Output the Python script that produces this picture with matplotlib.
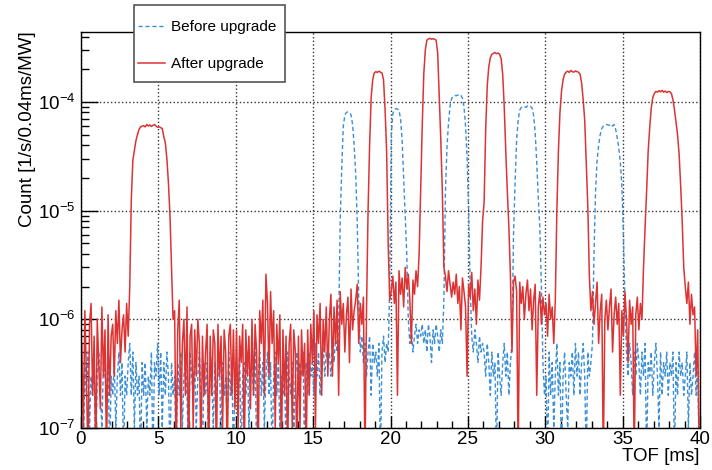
import numpy as np
import matplotlib
matplotlib.use("Agg")
import matplotlib.pyplot as plt
from matplotlib.patches import Rectangle
from matplotlib.ticker import LogLocator, MultipleLocator, NullFormatter

plt.rcParams['font.family'] = ['Liberation Sans', 'DejaVu Sans']
plt.rcParams['mathtext.fontset'] = 'custom'
plt.rcParams['mathtext.rm'] = 'Liberation Sans'
plt.rcParams['mathtext.default'] = 'regular'

# TOF histogram, 0.1 ms bins from 0 to 40 ms
bin_width = 0.1
unit = 1e-7  # counts below are in units of 1e-7 /s/0.04ms/MW

before = [
    3, 0.5, 4, 2, 5, 1, 3, 2, 4, 0.5, 3, 5, 2, 1, 4, 3, 2, 5, 0.5, 3,
    2, 4, 1, 3, 5, 2, 4, 0.5, 3, 2, 4, 6, 2, 5, 1, 4, 2, 3, 0.5, 4,
    2, 4, 1, 3, 2, 5, 0.5, 4, 3, 6, 2, 5, 1, 4, 2, 5, 3, 0.5, 4, 2,
    3, 0.5, 4, 2, 5, 1, 3, 4, 2, 0.5, 5, 3, 2, 4, 1, 3, 5, 2, 0.5, 4,
    2, 4, 0.5, 5, 3, 1, 4, 2, 3, 5, 0.5, 4, 2, 3, 1, 5, 2, 4, 0.5, 3,
    4, 2, 5, 0.5, 3, 4, 2, 5, 1, 3, 4, 2, 6, 0.5, 3, 5, 2, 4, 1, 3,
    5, 2, 4, 0.5, 3, 5, 2, 4, 1, 3, 2, 4, 0.5, 5, 3, 2, 4, 1, 3, 5,
    2, 4, 3, 5, 0.5, 4, 2, 5, 3, 4, 2, 6, 3, 5, 2, 4, 6, 3, 5, 4,
    5, 3, 6, 4, 7, 5, 9, 80, 250, 600, 760, 800, 810, 800, 760, 620, 400, 220, 80, 15,
    5, 7, 4, 6, 3, 5, 7, 2, 6, 4, 5, 3, 6, 0.5, 5, 7, 4, 6, 5, 20,
    500, 780, 850, 870, 860, 840, 700, 450, 200, 85, 40, 10, 6, 8, 5, 7, 9, 6, 8, 7,
    9, 6, 8, 5, 9, 7, 4, 8, 6, 9, 7, 5, 8, 6, 15, 150, 380, 650, 920, 1080,
    1120, 1150, 1140, 1160, 1130, 1150, 1080, 900, 600, 300, 100, 20, 7, 5, 8, 6, 4, 7, 5, 6,
    5, 3, 6, 4, 2, 5, 3, 4, 0.5, 5, 3, 2, 4, 6, 3, 5, 2, 4, 6, 60,
    180, 450, 680, 840, 890, 900, 910, 890, 920, 900, 910, 880, 750, 520, 280, 130, 70, 20, 4, 2,
    3, 0.5, 5, 2, 4, 1, 3, 6, 2, 4, 0.5, 3, 5, 2, 1, 4, 3, 5, 2, 6,
    3, 5, 2, 4, 6, 3, 0.5, 5, 3, 4, 6, 40, 150, 290, 400, 500, 570, 600, 610, 620,
    615, 610, 625, 600, 620, 560, 470, 380, 280, 170, 60, 15, 5, 3, 6, 4, 2, 5, 3, 6,
    4, 2, 5, 3, 6, 0.5, 4, 3, 5, 2, 4, 6, 3, 1, 5, 2, 4, 3, 5, 2,
    4, 3, 5, 0.5, 4, 2, 5, 3, 4, 2, 3, 5, 1, 4, 2, 3, 5, 2, 4, 0.5,
]

after = [
    6, 1, 12, 3, 0.5, 9, 14, 2, 7, 0.5, 10, 4, 1.5, 13, 3, 8, 0.5, 11, 2, 7,
    9, 3, 12, 6, 15, 4, 8, 11, 5, 14, 7, 20, 125, 290, 360, 440, 500, 560, 590, 600,
    605, 590, 620, 600, 615, 595, 610, 620, 600, 585, 590, 580, 570, 480, 420, 300, 180, 90, 30, 10,
    12, 0.5, 8, 15, 1, 6, 10, 2, 13, 0.5, 7, 9, 1, 8, 3, 10, 6, 0.5, 7, 2,
    5, 9, 0.5, 7, 2, 8, 6, 0.5, 9, 3, 7, 1, 8, 5, 0.5, 7, 9, 2, 8, 1.5,
    8, 1, 7, 4, 9, 0.5, 8, 3, 7, 1.5, 10, 2, 9, 5, 0.5, 12, 6, 15, 2, 26,
    14, 3, 18, 6, 12, 1, 9, 4, 11, 0.5, 8, 2, 7, 0.5, 6, 9, 1, 8, 5, 0.5,
    7, 1, 8, 3, 6, 0.5, 8, 2, 9, 4, 12, 1, 11, 6, 14, 2, 10, 5, 13, 3,
    10, 17, 3, 13, 6, 15, 2, 18, 9, 14, 5, 11, 16, 4, 19, 8, 12, 15, 21, 6,
    14, 9, 16, 0.5, 12, 100, 400, 1100, 1600, 1850, 1900, 1870, 1920, 1880, 1850, 1600, 850, 350, 50, 15,
    18, 25, 14, 22, 2, 28, 17, 24, 13, 30, 19, 26, 15, 6, 23, 17, 28, 20, 40, 150,
    600, 1800, 3000, 3700, 3800, 3850, 3780, 3820, 3780, 3700, 2800, 1100, 450, 150, 30, 25, 18, 28, 21, 16,
    22, 17, 26, 14, 20, 8, 24, 18, 13, 3, 21, 16, 27, 12, 19, 9, 23, 15, 30, 80,
    120, 550, 1400, 2100, 2550, 2750, 2800, 2850, 2780, 2820, 2750, 2500, 1800, 900, 350, 150, 70, 25, 5, 22,
    25, 18, 0.5, 22, 14, 20, 10, 17, 23, 12, 19, 8, 15, 21, 2, 13, 18, 9, 16, 11,
    14, 7, 17, 10, 13, 6, 15, 100, 350, 800, 1250, 1600, 1800, 1880, 1920, 1870, 1950, 1900, 1880, 1930,
    1900, 1880, 1800, 1500, 1050, 680, 280, 110, 25, 12, 18, 9, 14, 22, 6, 12, 17, 0.5, 10, 15,
    8, 13, 19, 5, 11, 16, 9, 14, 2, 12, 7, 18, 10, 4, 15, 9, 13, 0.5, 11, 16,
    8, 14, 10, 30, 70, 150, 350, 580, 880, 1100, 1200, 1250, 1230, 1270, 1240, 1280, 1230, 1260, 1220, 1250,
    1240, 1200, 1050, 850, 650, 500, 330, 170, 80, 30, 20, 14, 22, 9, 17, 11, 13, 3, 8, 0.5,
]

labels = ["Before upgrade", "After upgrade"]
colors = ["#3a8fd6", "#dd3333"]

tof = np.arange(len(after)) * bin_width + bin_width / 2
y_before = np.array(before) * unit
y_after = np.array(after) * unit

fig = plt.figure(figsize=(7.12, 4.70), dpi=100)
ax = fig.add_axes([81 / 712, 1 - 428 / 470, 619 / 712, 396.5 / 470])

ax.plot(tof, y_before, color=colors[0], lw=1.0, ls=(0, (3, 2)), label=labels[0])
ax.plot(tof, y_after, color=colors[1], lw=1.1, label=labels[1])

ax.set_yscale('log')
ax.set_xlim(0, 40)
ax.set_ylim(1e-7, 4.45e-4)

ax.xaxis.set_major_locator(MultipleLocator(5))
ax.xaxis.set_minor_locator(MultipleLocator(1))
ax.yaxis.set_major_locator(LogLocator(base=10, numticks=10))
ax.yaxis.set_minor_locator(LogLocator(base=10, subs=np.arange(2, 10), numticks=10))
ax.yaxis.set_minor_formatter(NullFormatter())

ax.tick_params(axis='both', which='both', direction='in', top=False, right=False, labelsize=13.5)
ax.tick_params(axis='y', which='major', length=12, width=1, pad=4)
ax.tick_params(axis='y', which='minor', length=6, width=1)
ax.tick_params(axis='x', which='major', length=9, width=1, pad=2)
ax.tick_params(axis='x', which='minor', length=5, width=1)

ax.grid(True, which='major', ls=':', color='#333333', lw=1)

for s in ax.spines.values():
    s.set_linewidth(1)

ax.set_ylabel("Count [1/s/0.04ms/MW]", fontsize=13.5, loc='top', labelpad=1)
ax.set_xlabel("TOF [ms]", fontsize=13.5, loc='right', labelpad=0)

# legend box sits over the top edge of the frame
box = Rectangle((134 / 712, 1 - 82 / 470), 151 / 712, 77 / 470, transform=fig.transFigure,
                facecolor='white', edgecolor='#555555', lw=1.2, zorder=5)
fig.add_artist(box)
leg = fig.legend(loc='upper left', bbox_to_anchor=(138 / 712, 1 - 20 / 470),
                 borderaxespad=0, borderpad=0, fontsize=11, labelspacing=1.5,
                 handlelength=1.75, handletextpad=0.4, frameon=False)
leg.set_zorder(6)

fig.savefig("out.png", dpi=100)
